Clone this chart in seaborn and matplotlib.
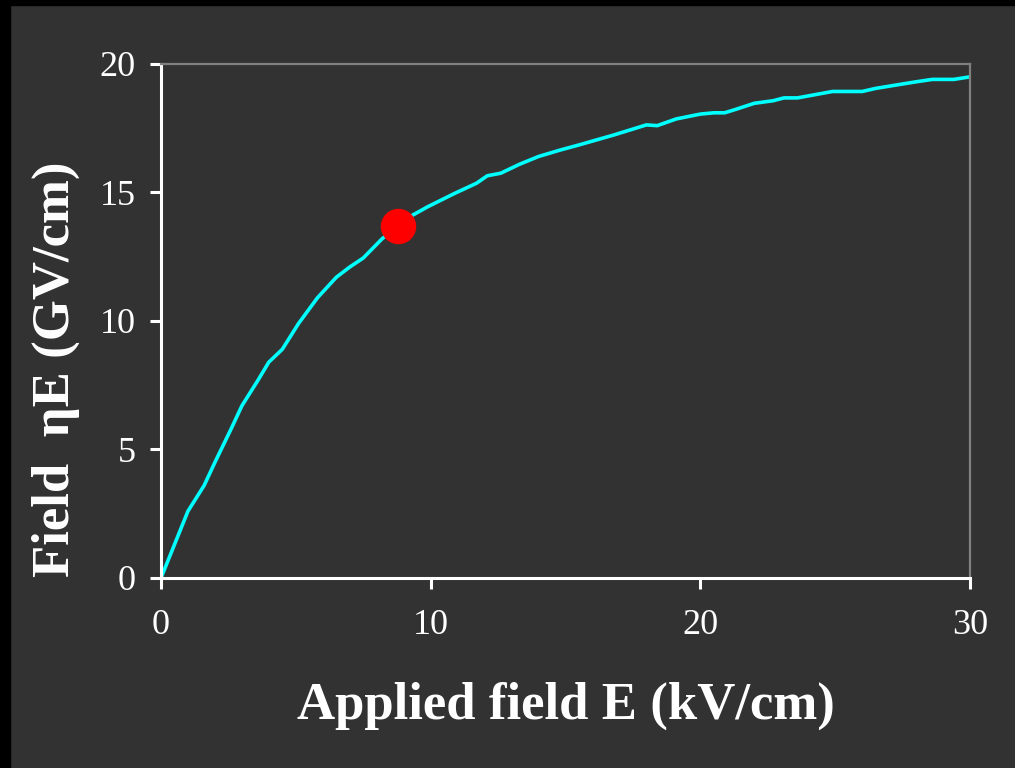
import numpy as np
import pandas as pd
import matplotlib
matplotlib.use("Agg")
import matplotlib.pyplot as plt
from matplotlib.patches import Rectangle
import seaborn as sns

# applied field E (kV/cm) vs enhanced field (GV/cm)
applied_kv = [0, 0.5, 1.0, 1.6, 2.0, 2.6, 3.0, 3.6, 4.0, 4.5, 5.1, 5.8, 6.5, 7.0,
              7.5, 8.2, 8.8, 9.3, 9.9, 10.9, 11.7, 12.1, 12.6, 13.3, 14.0, 14.8,
              15.5, 16.8, 18.0, 18.4, 19.1, 20.0, 20.5, 20.9, 21.3, 22.0, 22.7,
              23.1, 23.6, 24.9, 26.0, 26.5, 27.9, 28.6, 29.4, 30.0]
field_gv = [0, 1.3, 2.6, 3.6, 4.5, 5.8, 6.7, 7.7, 8.4, 8.9, 9.9, 10.9, 11.7, 12.1,
            12.45, 13.2, 13.7, 14.1, 14.45, 14.97, 15.36, 15.65, 15.75, 16.1, 16.4,
            16.65, 16.85, 17.24, 17.63, 17.6, 17.86, 18.05, 18.1, 18.1, 18.23,
            18.47, 18.57, 18.68, 18.68, 18.93, 18.93, 19.05, 19.29, 19.4, 19.4, 19.5]
marker_x = [8.8]
marker_y = [13.7]

x_ticks = [0, 10, 20, 30]
y_ticks = [0, 5, 10, 15, 20]

bg = "#323232"
sns.set_theme(style="dark")
plt.rcParams["font.family"] = ["Liberation Serif", "DejaVu Serif"]

fig = plt.figure(figsize=(10.15, 7.68), dpi=100, facecolor=bg)
ax = fig.add_axes([0.1586, 0.2474, 0.7971, 0.6693])
ax.set_facecolor(bg)

# black strips at the left and top edge of the slide crop
fig.patches.append(Rectangle((0, 0), 10 / 1015, 1, transform=fig.transFigure,
                             color="black", zorder=0))
fig.patches.append(Rectangle((0, 1 - 5 / 768), 1, 5 / 768, transform=fig.transFigure,
                             color="black", zorder=0))

df = pd.DataFrame({"E": applied_kv, "F": field_gv})
sns.lineplot(data=df, x="E", y="F", ax=ax, color="#00ffff", linewidth=2.6,
             estimator=None, sort=False)
ax.plot(marker_x, marker_y, "o", color="#ff0000", markersize=24.5, zorder=5)

ax.set_xlim(0, 30)
ax.set_ylim(0, 20)
ax.set_xticks(x_ticks)
ax.set_yticks(y_ticks)
ax.grid(False)

for side in ["left", "bottom"]:
    ax.spines[side].set_visible(True)
    ax.spines[side].set_color("white")
    ax.spines[side].set_linewidth(2.2)
for side in ["top", "right"]:
    ax.spines[side].set_visible(True)
    ax.spines[side].set_color("#808080")
    ax.spines[side].set_linewidth(1.6)

ax.tick_params(axis="both", direction="out", length=8, width=2.2, color="white",
               labelcolor="white", labelsize=26, bottom=True, left=True)
ax.tick_params(axis="y", pad=10)
ax.tick_params(axis="x", pad=14)

ax.set_xlabel("Applied field E (kV/cm)", fontsize=38, fontweight="bold",
              color="white", labelpad=29)
ax.set_ylabel("Field  ηE (GV/cm)", fontsize=38, fontweight="bold",
              color="white")
ax.yaxis.set_label_coords(-0.100, 0.407)

fig.savefig("out.png", dpi=100, facecolor=bg)
